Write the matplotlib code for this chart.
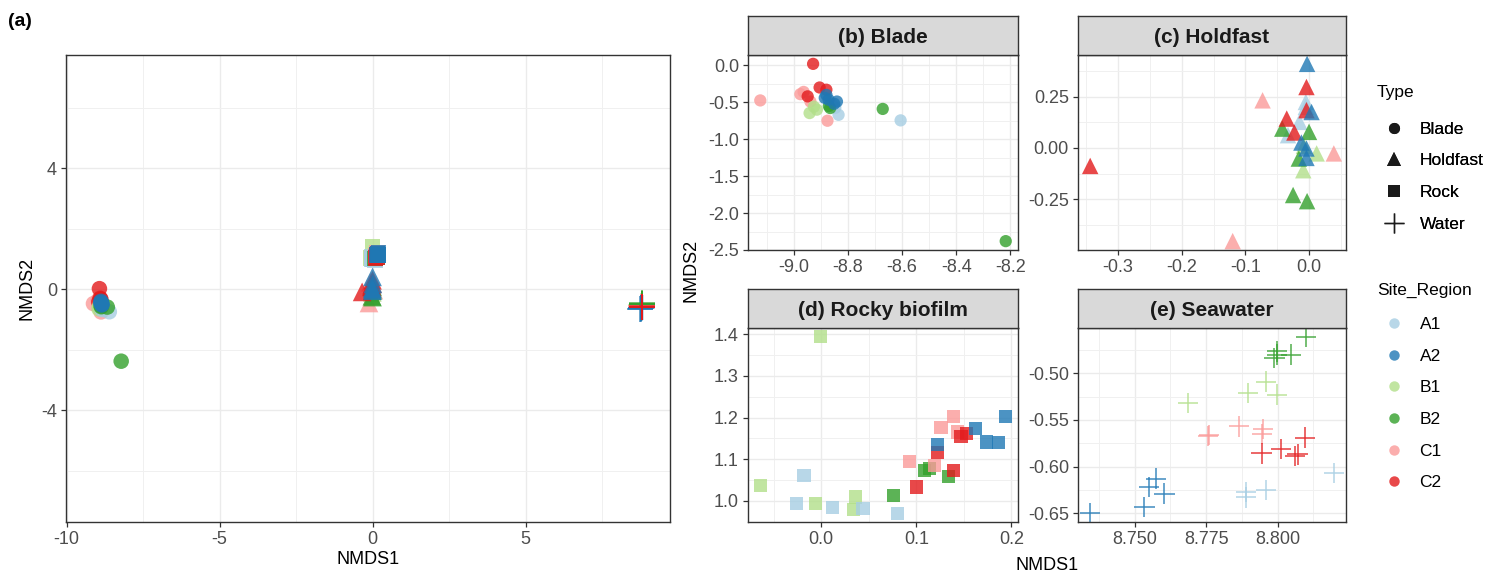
import matplotlib
matplotlib.use('Agg')
import matplotlib.pyplot as plt
from matplotlib.ticker import MultipleLocator, FormatStrFormatter
from matplotlib.lines import Line2D

plt.rcParams['font.family'] = ['Liberation Sans', 'DejaVu Sans']
plt.rcParams['axes.unicode_minus'] = False

# ---------------- data ----------------
sites = ['A1', 'A2', 'B1', 'B2', 'C1', 'C2']
site_colors = ['#A6CEE3', '#1F78B4', '#B2DF8A', '#33A02C', '#FB9A99', '#E31A1C']
types = ['Blade', 'Holdfast', 'Rock', 'Water']
type_titles = ['(b) Blade', '(c) Holdfast', '(d) Rocky biofilm', '(e) Seawater']

blade_site = ['C1', 'C1', 'C1', 'C1', 'C1', 'C2', 'C2', 'C2', 'C2',
              'B1', 'B1', 'B1', 'A1', 'A1', 'A1', 'A1', 'B2', 'B2', 'B2', 'B2',
              'A2', 'A2', 'A2', 'A2', 'A2']
blade_x = [-9.123, -8.963, -8.975, -8.938, -8.875, -8.928, -8.948, -8.904, -8.879,
           -8.941, -8.914, -8.925, -8.834, -8.846, -8.605, -8.860, -8.865, -8.671, -8.217, -8.870,
           -8.879, -8.871, -8.840, -8.850, -8.885]
blade_y = [-0.475, -0.360, -0.390, -0.490, -0.750, 0.020, -0.420, -0.300, -0.330,
           -0.646, -0.600, -0.560, -0.670, -0.575, -0.745, -0.520, -0.578, -0.590, -2.380, -0.550,
           -0.400, -0.465, -0.490, -0.520, -0.440]

hold_site = ['C1', 'C1', 'C1', 'A1', 'A1', 'A1', 'A1', 'B1', 'B1', 'B1',
             'B2', 'B2', 'B2', 'B2', 'B2', 'C2', 'C2', 'C2', 'C2', 'C2',
             'A2', 'A2', 'A2', 'A2', 'A2']
hold_x = [-0.073, 0.039, -0.120, -0.005, -0.015, -0.033, -0.005, 0.012, -0.009, -0.008,
          -0.042, 0.000, -0.016, -0.025, -0.003, -0.004, -0.004, -0.035, -0.023, -0.344,
          -0.003, 0.004, -0.012, -0.004, -0.004]
hold_y = [0.232, -0.027, -0.455, 0.224, 0.127, 0.062, 0.200, -0.027, -0.109, 0.010,
          0.094, 0.078, -0.052, -0.230, -0.260, 0.297, 0.184, 0.143, 0.075, -0.088,
          0.410, 0.175, 0.026, -0.003, -0.049]

rock_site = ['B1', 'B1', 'B1', 'B1', 'B1', 'A1', 'A1', 'A1', 'A1', 'A1',
             'B2', 'B2', 'B2', 'B2', 'C1', 'C1', 'C1', 'C1', 'C1',
             'C2', 'C2', 'C2', 'C2', 'C2', 'A2', 'A2', 'A2', 'A2', 'A2']
rock_x = [-0.001, -0.064, -0.006, 0.036, 0.034, -0.018, -0.026, 0.012, 0.044, 0.080,
          0.076, 0.109, 0.114, 0.134, 0.093, 0.119, 0.126, 0.139, 0.143,
          0.100, 0.139, 0.122, 0.147, 0.153, 0.122, 0.162, 0.174, 0.186, 0.194]
rock_y = [1.394, 1.037, 0.994, 1.009, 0.978, 1.061, 0.993, 0.983, 0.982, 0.970,
          1.013, 1.072, 1.077, 1.059, 1.094, 1.084, 1.176, 1.202, 1.165,
          1.033, 1.072, 1.116, 1.155, 1.161, 1.135, 1.174, 1.141, 1.139, 1.202]

water_site = ['A1', 'A1', 'A1', 'A1', 'B1', 'B1', 'B1', 'B1', 'C1', 'C1', 'C1', 'C1', 'C1',
              'A2', 'A2', 'A2', 'A2', 'A2', 'B2', 'B2', 'B2', 'B2', 'B2',
              'C2', 'C2', 'C2', 'C2', 'C2']
water_x = [8.7889, 8.7890, 8.7960, 8.8197, 8.7687, 8.7896, 8.7960, 8.7997,
           8.7756, 8.7760, 8.7865, 8.7948, 8.7946,
           8.7344, 8.7534, 8.7549, 8.7575, 8.7604, 8.8099, 8.7997, 8.7997, 8.7989, 8.8047,
           8.7944, 8.8012, 8.8060, 8.8070, 8.8096]
water_y = [-0.627, -0.633, -0.625, -0.607, -0.532, -0.521, -0.509, -0.523,
           -0.567, -0.566, -0.557, -0.560, -0.565,
           -0.650, -0.6437, -0.622, -0.613, -0.629, -0.461, -0.4766, -0.480, -0.4836, -0.480,
           -0.586, -0.5815, -0.5885, -0.587, -0.569]

# ---------------- styling ----------------
W, H = 1501, 576
fig = plt.figure(figsize=(W / 100, H / 100), dpi=100)
fig.patch.set_facecolor('white')

col_of = dict(zip(sites, site_colors))
marker_of = {'Blade': 'o', 'Holdfast': '^', 'Rock': 's', 'Water': '+'}
data = {
    'Blade': (blade_x, blade_y, blade_site),
    'Holdfast': (hold_x, hold_y, hold_site),
    'Rock': (rock_x, rock_y, rock_site),
    'Water': (water_x, water_y, water_site),
}
size_small = {'Blade': 78, 'Holdfast': 140, 'Rock': 90, 'Water': 215}
size_big = {'Blade': 125, 'Holdfast': 180, 'Rock': 125, 'Water': 340}

TICK = 13
DARK = '#333333'


def ax_px(left, top, right, bottom):
    return fig.add_axes([left / W, 1 - bottom / H, (right - left) / W, (bottom - top) / H])


def style(ax):
    ax.set_facecolor('white')
    for s in ax.spines.values():
        s.set_color(DARK)
        s.set_linewidth(1.0)
    ax.set_axisbelow(True)
    ax.grid(which='major', color='#EBEBEB', linewidth=1.0)
    ax.grid(which='minor', color='#F0F0F0', linewidth=0.7)
    ax.tick_params(which='major', color=DARK, labelcolor='#4D4D4D', labelsize=TICK,
                   length=3.5, width=0.9, pad=3)
    ax.tick_params(which='minor', length=0)


def draw(ax, t, sizes):
    x, y, s = data[t]
    cols = [col_of[k] for k in s]
    if t == 'Water':
        ax.scatter(x, y, marker='+', s=sizes[t], c=cols, alpha=0.85, linewidths=1.1)
    else:
        ax.scatter(x, y, marker=marker_of[t], s=sizes[t], c=cols, alpha=0.8, linewidths=0)


# ---------------- panel (a) ----------------
axa = ax_px(66, 55, 670, 522)
style(axa)
for t in types:
    draw(axa, t, size_big)
axa.margins(x=0.05)
axa.set_ylim(-7.7, 7.75)
axa.xaxis.set_major_locator(MultipleLocator(5))
axa.xaxis.set_minor_locator(MultipleLocator(2.5))
axa.yaxis.set_major_locator(MultipleLocator(4))
axa.yaxis.set_minor_locator(MultipleLocator(2))
axa.set_xlabel('NMDS1', fontsize=13, color='black', labelpad=2)
axa.set_ylabel('NMDS2', fontsize=13, color='black', labelpad=4)
fig.text(8 / W, 1 - 21 / H, '(a)', fontsize=14, fontweight='bold', ha='left', va='center')

# ---------------- facets ----------------
boxes = {
    'Blade': (748, 55, 1018, 250),
    'Holdfast': (1078, 55, 1346, 250),
    'Rock': (748, 328, 1018, 522),
    'Water': (1078, 328, 1346, 522),
}
locs = {
    'Blade': (0.2, 0.1, 0.5, 0.25, '%.1f', '%.1f'),
    'Holdfast': (0.1, 0.05, 0.25, 0.125, '%.1f', '%.2f'),
    'Rock': (0.1, 0.05, 0.1, 0.05, '%.1f', '%.1f'),
    'Water': (0.025, 0.0125, 0.05, 0.025, '%.3f', '%.2f'),
}
for t, title in zip(types, type_titles):
    l, tp, r, b = boxes[t]
    ax = ax_px(l, tp, r, b)
    style(ax)
    draw(ax, t, size_small)
    ax.margins(0.05)
    xm, xn, ym, yn, xf, yf = locs[t]
    ax.xaxis.set_major_locator(MultipleLocator(xm))
    ax.xaxis.set_minor_locator(MultipleLocator(xn))
    ax.yaxis.set_major_locator(MultipleLocator(ym))
    ax.yaxis.set_minor_locator(MultipleLocator(yn))
    ax.xaxis.set_major_formatter(FormatStrFormatter(xf))
    ax.yaxis.set_major_formatter(FormatStrFormatter(yf))
    # strip
    sax = ax_px(l, tp - 39, r, tp)
    sax.set_facecolor('#D9D9D9')
    for s in sax.spines.values():
        s.set_color(DARK)
        s.set_linewidth(1.0)
    sax.set_xticks([])
    sax.set_yticks([])
    sax.text(0.5, 0.44, title, transform=sax.transAxes, ha='center', va='center',
             fontsize=15, fontweight='bold', color='#1A1A1A')

fig.text(1047 / W, 1 - 566 / H, 'NMDS1', fontsize=13, ha='center', va='center')
fig.text(691 / W, 1 - 270 / H, 'NMDS2', fontsize=13, ha='center', va='center', rotation=90)

# ---------------- legends ----------------
type_handles = []
for t, ms in zip(types, [8, 10, 9, 14]):
    if t == 'Water':
        type_handles.append(Line2D([], [], ls='none', marker='+', markersize=ms,
                                   color='#1A1A1A', markeredgewidth=1.0))
    else:
        type_handles.append(Line2D([], [], ls='none', marker=marker_of[t], markersize=ms,
                                   color='#1A1A1A', markeredgewidth=0))
site_handles = [Line2D([], [], ls='none', marker='o', markersize=7.5, color=c,
                       alpha=0.8, markeredgewidth=0) for c in site_colors]

common = dict(loc='upper left', frameon=False, fontsize=12.5,
              handlelength=2.0, handletextpad=0.45, labelspacing=0.95,
              borderpad=0, borderaxespad=0)
fig.text(1377 / W, 1 - 92 / H, 'Type', fontsize=12.5, ha='left', va='center')
fig.text(1377 / W, 1 - 290 / H, 'Site_Region', fontsize=12.5, ha='left', va='center')
leg1 = fig.legend(type_handles, types, bbox_to_anchor=(1377 / W, 1 - 121.5 / H), **common)
leg2 = fig.legend(site_handles, sites, bbox_to_anchor=(1377 / W, 1 - 317 / H), **common)
fig.add_artist(leg1)

fig.savefig('out.png', dpi=100, facecolor='white')
